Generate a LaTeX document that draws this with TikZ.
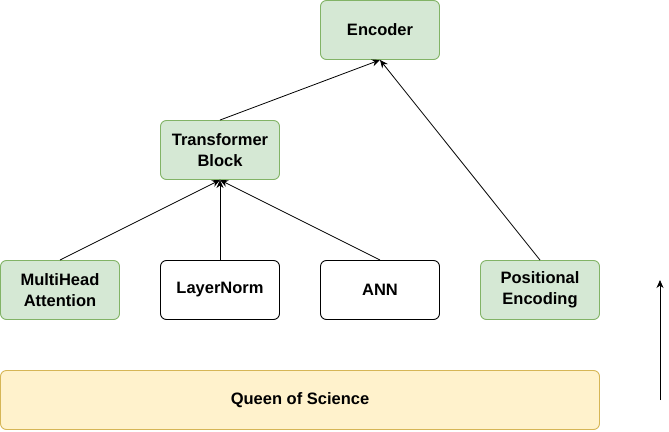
\documentclass[tikz,border=0pt]{standalone}
\usepackage{fontspec}
\setmainfont{Liberation Sans}
\usetikzlibrary{arrows.meta}
\definecolor{gfill}{HTML}{D5E8D4}
\definecolor{gline}{HTML}{82B366}
\definecolor{yfill}{HTML}{FFF2CC}
\definecolor{yline}{HTML}{D6B656}
\begin{document}
\begin{tikzpicture}[x=1pt,y=-1pt,
  box/.style={draw, rounded corners=6pt, minimum width=119pt, minimum height=59pt, align=center,
    font=\fontsize{16.5}{21}\selectfont\bfseries, line width=0.9pt, inner sep=0pt, fill=white},
  gbox/.style={box, fill=gfill, draw=gline},
  ybox/.style={box, fill=yfill, draw=yline, minimum width=599pt},
  arr/.style={-{Stealth[length=8pt,width=7pt,inset=2.5pt]}, line width=0.8pt}]
\useasboundingbox (0,0) rectangle (669,431);
\node[gbox] (enc) at (380,30) {Encoder};
\node[gbox] (tb) at (220,150) {Transformer\\Block};
\node[gbox] (mh) at (60,290) {MultiHead\\Attention};
\node[box] (ln) at (220,290) {LayerNorm};
\node[box] (ann) at (380,290) {ANN};
\node[gbox] (pe) at (540,290) {Positional\\Encoding};
\node[ybox] (qs) at (300,400) {Queen of Science};
\draw[arr] (mh.north) -- (tb.south);
\draw[arr] (ln.north) -- (tb.south);
\draw[arr] (ann.north) -- (tb.south);
\draw[arr] (tb.north) -- (enc.south);
\draw[arr] (pe.north) -- (enc.south);
\coordinate (a1) at (660,400);
\coordinate (a2) at (660,280);
\draw[arr] (a1) -- (a2);
\end{tikzpicture}
\end{document}
